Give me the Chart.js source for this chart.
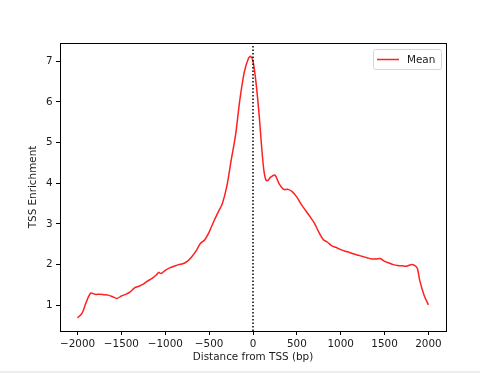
<!DOCTYPE html>
<html>
<head>
<meta charset="utf-8">
<script src="https://cdn.jsdelivr.net/npm/chart.js@4/dist/chart.umd.min.js"></script>
<style>
  html, body { margin: 0; padding: 0; background: #ececec; }
  canvas { display: block; background: #fff; }
</style>
</head>
<body>
<canvas id="tssChart" width="480" height="371"></canvas>
<script>
// distance from TSS (bp) and mean enrichment
const positions = [
  -2000, -1950, -1900, -1850, -1800, -1750, -1700, -1650, -1600, -1550,
  -1500, -1450, -1400, -1350, -1300, -1250, -1200, -1150, -1100, -1075,
  -1050, -1000, -950, -900, -850, -800, -750, -700, -650, -600,
  -550, -500, -450, -400, -350, -300, -250, -200, -150, -100,
  -50, -25, 0, 25, 50, 75, 100, 125, 150, 175,
  200, 250, 300, 350, 400, 450, 500, 550, 600, 650,
  700, 750, 800, 850, 900, 950, 1000, 1050, 1100, 1150,
  1200, 1250, 1300, 1350, 1400, 1450, 1500, 1550, 1600, 1650,
  1700, 1750, 1800, 1850, 1875, 1900, 1950, 2000
];
const meanValues = [
  0.69, 0.80, 1.08, 1.30, 1.27, 1.27, 1.26, 1.25, 1.21, 1.17,
  1.23, 1.27, 1.33, 1.43, 1.47, 1.52, 1.60, 1.66, 1.75, 1.81,
  1.78, 1.86, 1.92, 1.96, 2.00, 2.02, 2.08, 2.19, 2.33, 2.52,
  2.61, 2.80, 3.05, 3.28, 3.50, 3.91, 4.55, 5.17, 6.05, 6.73,
  7.08, 7.12, 7.00, 6.65, 6.15, 5.55, 4.85, 4.30, 4.07, 4.08,
  4.15, 4.20, 3.98, 3.85, 3.85, 3.79, 3.66, 3.48, 3.33, 3.18,
  3.02, 2.80, 2.62, 2.55, 2.46, 2.42, 2.37, 2.33, 2.30, 2.26,
  2.23, 2.20, 2.17, 2.14, 2.14, 2.15, 2.08, 2.04, 2.00, 1.98,
  1.97, 1.96, 2.00, 1.97, 1.90, 1.62, 1.25, 1.01
];
const xTicks = [-2000, -1500, -1000, -500, 0, 500, 1000, 1500, 2000];
const yTicks = [1, 2, 3, 4, 5, 6, 7];
const tssLine = [0, 0];
const xRange = [-2200, 2200];
const yRange = [0.368, 7.45];

const fontFamily = "'DejaVu Sans', sans-serif";
const fontSize = 10.4;
const textColor = "#1a1a1a";

const meanPoints = positions.map((p, i) => ({ x: p, y: meanValues[i] }));
const tssPoints = tssLine.map((p, i) => ({ x: p, y: yRange[i] }));

const fmt = (v) => String(v).replace("-", "\u2212");

// box around the plot + matplotlib-style legend
const framePlugin = {
  id: "frame",
  afterDraw(chart) {
    const { ctx, chartArea: a } = chart;
    ctx.save();
    ctx.strokeStyle = "#000";
    ctx.lineWidth = 1;
    ctx.strokeRect(Math.round(a.left) + 0.5, Math.round(a.top) + 0.5,
      Math.round(a.right - a.left), Math.round(a.bottom - a.top));

    // legend
    const w = 68, h = 20;
    const lx = a.right - 5 - w, ly = a.top + 6;
    ctx.beginPath();
    ctx.roundRect(lx + 0.5, ly + 0.5, w, h, 2);
    ctx.fillStyle = "rgba(255,255,255,0.8)";
    ctx.fill();
    ctx.strokeStyle = "#d6d6d6";
    ctx.stroke();
    ctx.beginPath();
    ctx.moveTo(lx + 4, ly + h / 2 + 0.5);
    ctx.lineTo(lx + 26, ly + h / 2 + 0.5);
    ctx.strokeStyle = "#ff2020";
    ctx.lineWidth = 1.5;
    ctx.stroke();
    ctx.fillStyle = textColor;
    ctx.font = fontSize + "px " + fontFamily;
    ctx.textBaseline = "middle";
    ctx.fillText("Mean", lx + 34, ly + h / 2 + 1);
    ctx.restore();
  }
};

new Chart(document.getElementById("tssChart"), {
  type: "line",
  data: {
    datasets: [
      {
        label: "Mean",
        data: meanPoints,
        borderColor: "#ff2020",
        borderWidth: 1.5,
        pointRadius: 0,
        tension: 0.3,
        fill: false,
        order: 1
      },
      {
        label: "TSS",
        data: tssPoints,
        borderColor: "#000",
        borderWidth: 1.5,
        borderDash: [1.5, 2],
        pointRadius: 0,
        fill: false,
        order: -1
      }
    ]
  },
  options: {
    responsive: false,
    animation: false,
    layout: { padding: { top: 43, right: 34, bottom: 0, left: 0 } },
    plugins: {
      legend: { display: false },
      tooltip: { enabled: false }
    },
    scales: {
      x: {
        type: "linear",
        min: xRange[0],
        max: xRange[1],
        afterBuildTicks: (s) => { s.ticks = xTicks.map((v) => ({ value: v })); },
        afterFit: (s) => { s.height = 40; },
        grid: { drawOnChartArea: false, tickLength: 4, tickColor: "#000", lineWidth: 1 },
        border: { color: "#000" },
        ticks: {
          color: textColor,
          font: { family: fontFamily, size: fontSize },
          padding: 3,
          maxRotation: 0,
          callback: (v) => fmt(v)
        },
        title: {
          display: true,
          text: "Distance from TSS (bp)",
          color: textColor,
          font: { family: fontFamily, size: fontSize },
          padding: { top: 0, bottom: 7 }
        }
      },
      y: {
        type: "linear",
        min: yRange[0],
        max: yRange[1],
        afterBuildTicks: (s) => { s.ticks = yTicks.map((v) => ({ value: v })); },
        afterFit: (s) => { s.width = 60; },
        grid: { drawOnChartArea: false, tickLength: 4, tickColor: "#000", lineWidth: 1 },
        border: { color: "#000" },
        ticks: {
          color: textColor,
          font: { family: fontFamily, size: fontSize },
          padding: 3.5,
          callback: (v) => fmt(v)
        },
        title: {
          display: true,
          text: "TSS Enrichment",
          color: textColor,
          font: { family: fontFamily, size: fontSize },
          padding: { top: 27, bottom: 0 }
        }
      }
    }
  },
  plugins: [framePlugin]
});
</script>
</body>
</html>
